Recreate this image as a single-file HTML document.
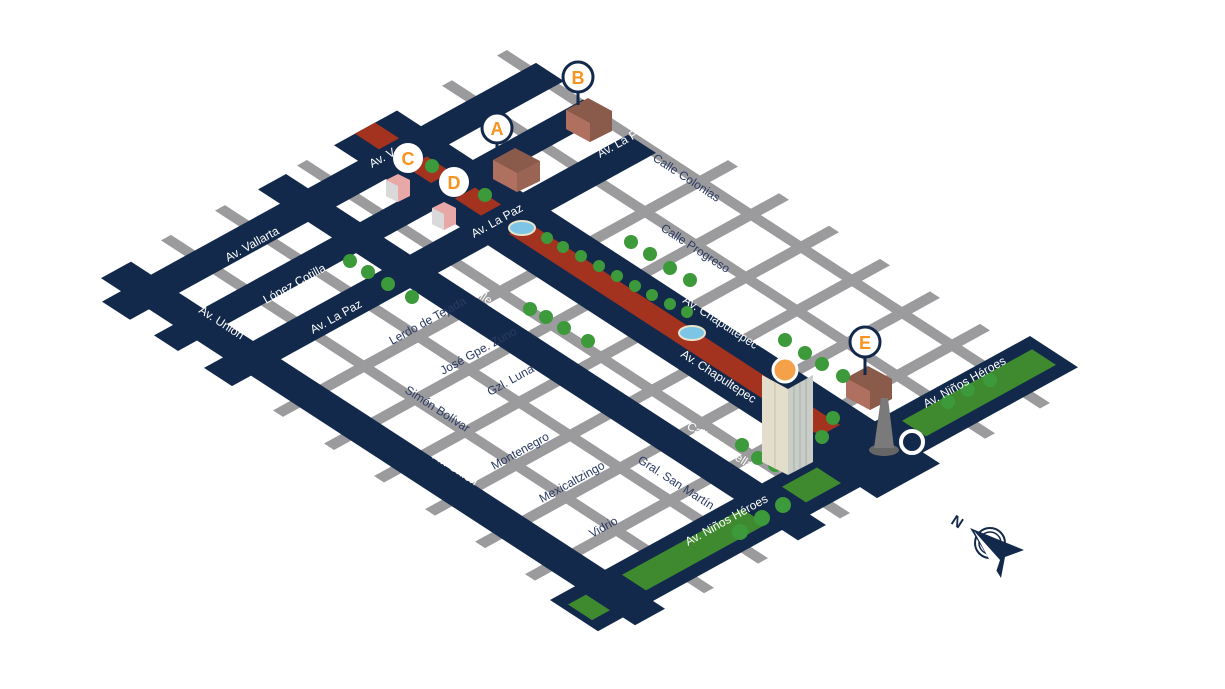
<!DOCTYPE html>
<html><head><meta charset="utf-8"><style>
html,body{margin:0;padding:0;background:#fff;}
svg{display:block;}
text{font-family:"Liberation Sans",sans-serif;}
</style></head><body>
<svg width="1225" height="689" viewBox="0 0 1225 689" xmlns="http://www.w3.org/2000/svg">
<rect width="1225" height="689" fill="#fff"/>
<g transform="matrix(1,0.65,1,-0.55,150,292)">
  <g fill="#9b9b9d">
    <rect x="-38" y="49" width="543" height="10"/>
    <rect x="-38" y="103" width="543" height="10"/>
    <rect x="-38" y="185" width="543" height="10"/>
    <rect x="-38" y="330" width="543" height="10"/>
    <rect x="-38" y="385" width="543" height="10"/>
    <rect x="155" y="-32" width="10" height="455"/>
    <rect x="206" y="-32" width="10" height="455"/>
    <rect x="256" y="-32" width="10" height="455"/>
    <rect x="307" y="-32" width="10" height="455"/>
    <rect x="357" y="-32" width="10" height="455"/>
    <rect x="407" y="-32" width="10" height="455"/>
  </g>
  <g fill="#13294b">
    <rect x="-34" y="-15" width="534" height="30"/>
    <rect x="-36" y="144" width="540" height="28"/>
    <rect x="-38" y="222" width="543" height="63"/>
  </g>
  <rect x="-38" y="243" width="465" height="20" fill="#a3321f"/>
  <g fill="#13294b">
    <rect x="-14" y="-34" width="28" height="434"/>
    <rect x="38" y="-34" width="24" height="429"/>
    <rect x="88" y="-34" width="28" height="424"/>
    <rect x="440" y="-40" width="48" height="480"/>
  </g>
  <rect x="-38" y="243" width="24" height="20" fill="#a3321f"/>
  <rect x="14" y="243" width="24" height="20" fill="#a3321f"/>
  <rect x="62" y="243" width="26" height="20" fill="#a3321f"/>
  <g fill="#3f8a2f">
    <rect x="452" y="-34" width="24" height="18"/>
    <rect x="452" y="20" width="24" height="120"/>
    <rect x="452" y="180" width="24" height="35"/>
    <rect x="452" y="300" width="24" height="130"/>
  </g>
</g>

<ellipse cx="522" cy="228" rx="13" ry="7" fill="#7cc5e6" stroke="#e9e3c9" stroke-width="2"/>
<ellipse cx="692" cy="333" rx="13" ry="7" fill="#7cc5e6" stroke="#e9e3c9" stroke-width="2"/>

<g>
  <polygon points="493,160 515,148 540,161 540,181 517,192 493,179" fill="#8a5a4a"/>
  <polygon points="493,160 517,173 517,192 493,179" fill="#b07060"/>
  <polygon points="517,173 540,161 540,181 517,192" fill="#9a6454"/>
  <polygon points="566,110 588,98 612,111 612,131 590,142 566,129" fill="#8a5a4a"/>
  <polygon points="566,110 590,123 590,142 566,129" fill="#b07060"/>
  <polygon points="846,378 868,366 892,379 892,399 870,410 846,397" fill="#8a5a4a"/>
  <polygon points="846,378 870,391 870,410 846,397" fill="#b07060"/>
  <polygon points="386,180 398,174 410,180 410,196 398,202 386,196" fill="#e8a8a8"/>
  <polygon points="386,180 398,186 398,202 386,196" fill="#d9d9d9"/>
  <polygon points="432,208 444,202 456,208 456,224 444,230 432,224" fill="#e8a8a8"/>
  <polygon points="432,208 444,214 444,230 432,224" fill="#d9d9d9"/>
</g>

<g fill="#3c9a3a">
  <circle cx="432" cy="166" r="7"/><circle cx="485" cy="195" r="7"/>
  <circle cx="547" cy="238" r="6"/><circle cx="563" cy="247" r="6"/><circle cx="581" cy="256" r="6"/>
  <circle cx="599" cy="266" r="6"/><circle cx="617" cy="276" r="6"/><circle cx="635" cy="286" r="6"/>
  <circle cx="652" cy="295" r="6"/><circle cx="670" cy="304" r="6"/><circle cx="687" cy="312" r="6"/>
  <circle cx="350" cy="261" r="7"/><circle cx="368" cy="272" r="7"/><circle cx="388" cy="284" r="7"/><circle cx="412" cy="297" r="7"/>
  <circle cx="530" cy="309" r="7"/><circle cx="546" cy="317" r="7"/><circle cx="564" cy="328" r="7"/><circle cx="588" cy="341" r="7"/>
  <circle cx="631" cy="242" r="7"/><circle cx="650" cy="254" r="7"/><circle cx="670" cy="268" r="7"/><circle cx="690" cy="280" r="7"/>
  <circle cx="785" cy="340" r="7"/><circle cx="805" cy="353" r="7"/><circle cx="822" cy="364" r="7"/><circle cx="843" cy="376" r="7"/>
  <circle cx="822" cy="437" r="7"/><circle cx="742" cy="445" r="7"/><circle cx="758" cy="458" r="7"/><circle cx="775" cy="465" r="7"/><circle cx="802" cy="457" r="8"/>
  <circle cx="740" cy="532" r="8"/><circle cx="762" cy="518" r="8"/><circle cx="783" cy="505" r="8"/>
  <circle cx="948" cy="402" r="7"/><circle cx="968" cy="390" r="7"/><circle cx="990" cy="380" r="7"/>
  <circle cx="833" cy="418" r="7"/>
</g>

<polygon points="762,375 788,389 788,475 762,462" fill="#e3ddcc"/>
<polygon points="788,389 813,375 813,462 788,475" fill="#c9cdc8"/>
<g stroke="#a9aea9" stroke-width="1">
  <line x1="794" y1="386" x2="794" y2="472"/><line x1="800" y1="383" x2="800" y2="468"/><line x1="806" y1="379" x2="806" y2="465"/>
  <line x1="775" y1="382" x2="775" y2="469" stroke="#c9c0a8"/>
</g>
<circle cx="785" cy="370" r="12" fill="#f4a14a" stroke="#fff" stroke-width="3"/>

<ellipse cx="884" cy="450" rx="15" ry="6" fill="#666"/>
<polygon points="881,398 888,398 894,448 874,448" fill="#7a7a7a"/>
<circle cx="912" cy="442" r="11" fill="#13294b" stroke="#fff" stroke-width="4"/>

<g font-weight="bold" font-size="18" fill="#f7931e" text-anchor="middle">
  <line x1="497" y1="143" x2="497" y2="150" stroke="#13294b" stroke-width="3"/>
  <circle cx="497" cy="128" r="15" fill="#fff" stroke="#13294b" stroke-width="3"/><text x="497" y="135">A</text>
  <line x1="578" y1="92" x2="578" y2="105" stroke="#13294b" stroke-width="3"/>
  <circle cx="578" cy="77" r="15" fill="#fff" stroke="#13294b" stroke-width="3"/><text x="578" y="84">B</text>
  <circle cx="408" cy="158" r="15" fill="#fff"/><text x="408" y="165">C</text>
  <circle cx="454" cy="182" r="15" fill="#fff"/><text x="454" y="189">D</text>
  <line x1="865" y1="357" x2="865" y2="375" stroke="#13294b" stroke-width="3"/>
  <circle cx="865" cy="342" r="15" fill="#fff" stroke="#13294b" stroke-width="3"/><text x="865" y="349">E</text>
</g>

<g fill="#fff" font-size="12">
  <text transform="translate(228,262) rotate(-29)">Av. Vallarta</text>
  <text transform="translate(266,304) rotate(-29)">López Cotilla</text>
  <text transform="translate(313,334) rotate(-29)">Av. La Paz</text>
  <text transform="translate(474,238) rotate(-29)">Av. La Paz</text>
  <text transform="translate(600,158) rotate(-29)">Av. La Paz</text>
  <text transform="translate(372,168) rotate(-29)">Av. V</text>
  <text transform="translate(688,546) rotate(-29)">Av. Niños Héroes</text>
  <text transform="translate(926,408) rotate(-29)">Av. Niños Héroes</text>
  <text transform="translate(198,312) rotate(33)">Av. Unión</text>
  <text transform="translate(432,458) rotate(33)">Av. Unión</text>
  <text transform="translate(466,290) rotate(33)">Calle Marsella</text>
  <text transform="translate(686,428) rotate(33)">Calle Marsella</text>
  <text transform="translate(682,302) rotate(33)">Av. Chapultepec</text>
  <text transform="translate(680,356) rotate(33)">Av. Chapultepec</text>
</g>
<g fill="#2b3a63" font-size="12">
  <text transform="translate(392,345) rotate(-29)">Lerdo de Tejada</text>
  <text transform="translate(443,375) rotate(-29)">José Gpe. Zuno</text>
  <text transform="translate(490,396) rotate(-29)">Gzl. Luna</text>
  <text transform="translate(494,470) rotate(-29)">Montenegro</text>
  <text transform="translate(542,503) rotate(-29)">Mexicaltzingo</text>
  <text transform="translate(592,538) rotate(-29)">Vidrio</text>
  <text transform="translate(404,392) rotate(33)">Simón Bolívar</text>
  <text transform="translate(637,462) rotate(33)">Gral. San Martín</text>
  <text transform="translate(652,160) rotate(33)">Calle Colonias</text>
  <text transform="translate(660,230) rotate(33)">Calle Progreso</text>
</g>

<g>
  <text transform="translate(950,523) rotate(33)" font-size="15" font-weight="bold" fill="#13294b">N</text>
  <circle cx="990" cy="543" r="15" fill="none" stroke="#13294b" stroke-width="2"/>
  <circle cx="990" cy="543" r="11" fill="none" stroke="#13294b" stroke-width="1.5"/>
  <polygon points="970,528 1024,550 1005,557 1001,578" fill="#13294b"/>
  <polygon points="974,531 1000,560 996,572" fill="#fff"/>
</g>
</svg>
</body></html>
